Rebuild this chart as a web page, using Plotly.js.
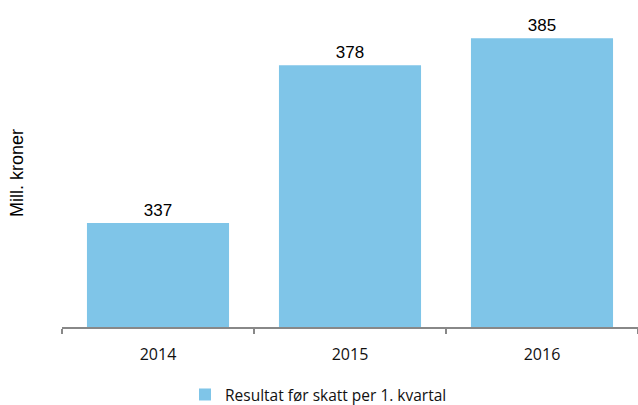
<!DOCTYPE html>
<html>
<head>
<meta charset="utf-8">
<script src="https://cdn.plot.ly/plotly-3.0.1.min.js"></script>
<style>html,body{margin:0;padding:0;background:#fff;}#chart{width:638px;height:405px;}</style>
</head>
<body>
<div id="chart"></div>
<script>
const years = ['2014', '2015', '2016'];
const resultat = [337, 378, 385];
const seriesName = 'Resultat før skatt per 1. kvartal';
const yTitle = 'Mill. kroner';

const trace = {
  type: 'bar',
  x: years,
  y: resultat,
  name: seriesName,
  marker: {color: '#7fc5e8'},
  text: resultat.map(String),
  textposition: 'outside',
  cliponaxis: false,
  textfont: {family: 'Liberation Sans, Arial, sans-serif', size: 17, color: '#000'},
  showlegend: true,
  hoverinfo: 'none'
};

const layout = {
  width: 638, height: 405,
  margin: {l: 62, r: 0, t: 19, b: 78, autoexpand: false},
  paper_bgcolor: '#fff', plot_bgcolor: '#fff',
  bargap: 0.26,
  showlegend: true,
  xaxis: {
    type: 'category',
    tickson: 'boundaries',
    ticks: 'outside', ticklen: 5, tickwidth: 2, tickcolor: '#888',
    showline: true, linecolor: '#888', linewidth: 2,
    ticklabelstandoff: 12,
    tickfont: {family: 'Open Sans, sans-serif', size: 16, color: '#111'},
    fixedrange: true
  },
  yaxis: {
    range: [310, 390],
    visible: true, showticklabels: false, showgrid: false, zeroline: false, showline: false, ticks: '',
    title: {text: yTitle, font: {family: 'Liberation Sans, Arial, sans-serif', size: 18, color: '#000'}, standoff: 32},
    fixedrange: true
  },
  legend: {
    orientation: 'h', x: 0.2135, xanchor: 'left', y: -0.2205, yanchor: 'middle',
    font: {family: 'Open Sans, sans-serif', size: 15.5, color: '#111'},
    itemwidth: 30
  }
};

Plotly.newPlot('chart', [trace], layout, {displayModeBar: false, staticPlot: true});
</script>
</body>
</html>
